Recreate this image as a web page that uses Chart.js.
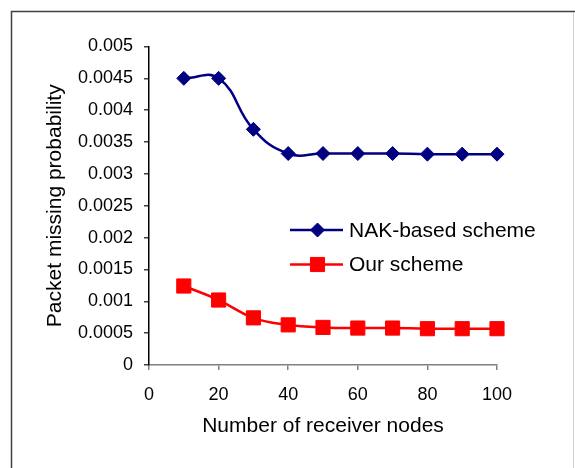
<!DOCTYPE html>
<html>
<head>
<meta charset="utf-8">
<script src="https://cdn.jsdelivr.net/npm/chart.js@4.4.1/dist/chart.umd.min.js"></script>
<style>
  html, body { margin: 0; padding: 0; background: #fff; }
  #wrap { width: 575px; height: 468px; }
</style>
</head>
<body>
<div id="wrap"><canvas id="chart" width="575" height="468"></canvas></div>
<script>
// data
const receiverNodes = [10, 20, 30, 40, 50, 60, 70, 80, 90, 100];
const nakScheme = [0.0045, 0.0045, 0.0037, 0.00332, 0.00332, 0.00332, 0.00332, 0.00331, 0.00331, 0.00331];
const ourScheme = [0.00124, 0.00102, 0.00074, 0.00063, 0.00059, 0.00058, 0.00058, 0.00057, 0.00057, 0.00057];
const seriesNames = ['NAK-based scheme', 'Our scheme'];
const xTicks = [0, 20, 40, 60, 80, 100];
const yTicks = [0, 0.0005, 0.001, 0.0015, 0.002, 0.0025, 0.003, 0.0035, 0.004, 0.0045, 0.005];

const FONT = '"Liberation Sans", Arial, sans-serif';

function toPoints(ys) {
    return receiverNodes.map(function (x, i) { return { x: x, y: ys[i] }; });
}

// outer frame around the whole chart
const framePlugin = {
    id: 'frame',
    beforeDraw: function (chart) {
        const ctx = chart.ctx;
        ctx.save();
        ctx.fillStyle = '#fff';
        ctx.fillRect(0, 0, chart.width, chart.height);
        ctx.strokeStyle = '#404040';
        ctx.lineWidth = 1.5;
        ctx.beginPath();
        ctx.moveTo(11.5, chart.height + 5);
        ctx.lineTo(11.5, 11.5);
        ctx.lineTo(chart.width, 11.5);
        ctx.stroke();
        ctx.strokeStyle = '#d0d0d0';
        ctx.lineWidth = 1;
        ctx.beginPath();
        ctx.moveTo(573.5, 12);
        ctx.lineTo(573.5, chart.height);
        ctx.stroke();
        ctx.restore();
    }
};

// legend drawn inside the plot area, line + marker like the original
const legendPlugin = {
    id: 'insideLegend',
    afterDraw: function (chart) {
        const ctx = chart.ctx;
        const rows = [230, 264.5];
        ctx.save();
        chart.data.datasets.forEach(function (ds, i) {
            const y = rows[i];
            ctx.strokeStyle = ds.borderColor;
            ctx.lineWidth = 2.5;
            ctx.beginPath();
            ctx.moveTo(290, y);
            ctx.lineTo(343, y);
            ctx.stroke();
            // drawPoint fills/strokes with the current ctx colours
            ctx.fillStyle = ds.pointBackgroundColor;
            ctx.strokeStyle = ds.pointBorderColor;
            ctx.lineWidth = 1;
            Chart.helpers.drawPoint(ctx, {
                pointStyle: ds.pointStyle,
                radius: ds.pointRadius,
                borderWidth: 1,
                rotation: 0
            }, 317.5, y);
            ctx.fillStyle = '#000';
            ctx.font = '21px ' + FONT;
            ctx.textBaseline = 'middle';
            ctx.textAlign = 'left';
            ctx.fillText(ds.label, 349, y + 1);
        });
        ctx.restore();
    }
};

const ctx = document.getElementById('chart').getContext('2d');
new Chart(ctx, {
    type: 'line',
    data: {
        datasets: [{
            label: seriesNames[0],
            data: toPoints(nakScheme),
            borderColor: '#000080',
            backgroundColor: '#000080',
            pointBackgroundColor: '#000080',
            pointBorderColor: '#000080',
            borderWidth: 2.5,
            pointStyle: 'rectRot',
            pointRadius: 7,
            pointBorderWidth: 1,
            tension: 0.45,
            clip: false
        }, {
            label: seriesNames[1],
            data: toPoints(ourScheme),
            borderColor: '#ff0000',
            backgroundColor: '#ff0000',
            pointBackgroundColor: '#ff0000',
            pointBorderColor: '#ff0000',
            borderWidth: 2.5,
            pointStyle: 'rect',
            pointRadius: 10,
            pointBorderWidth: 1,
            tension: 0.45,
            clip: false
        }]
    },
    options: {
        responsive: false,
        animation: false,
        layout: { padding: { left: 0, top: 46.5, right: 78, bottom: 0 } },
        plugins: {
            legend: { display: false },
            tooltip: { enabled: false }
        },
        scales: {
            x: {
                type: 'linear',
                min: 0,
                max: 100,
                afterBuildTicks: function (scale) {
                    scale.ticks = xTicks.map(function (v) { return { value: v }; });
                },
                afterFit: function (scale) { scale.height = 103; },
                border: { color: '#808080', width: 1.5 },
                grid: { drawOnChartArea: false, drawTicks: true, tickLength: 5, color: '#808080', lineWidth: 1.5 },
                ticks: { color: '#000', padding: 14, font: { family: FONT, size: 18 }, maxRotation: 0 },
                title: {
                    display: true,
                    text: 'Number of receiver nodes',
                    color: '#000',
                    font: { family: FONT, size: 21 },
                    padding: { top: 0, bottom: 29 }
                }
            },
            y: {
                min: 0,
                max: 0.005,
                afterBuildTicks: function (scale) {
                    scale.ticks = yTicks.map(function (v) { return { value: v }; });
                },
                afterFit: function (scale) { scale.width = 149; },
                border: { color: '#000', width: 1.5 },
                grid: { drawOnChartArea: false, drawTicks: true, tickLength: 5, color: '#404040', lineWidth: 1.5 },
                ticks: {
                    color: '#000',
                    padding: 11,
                    font: { family: FONT, size: 18 },
                    callback: function (v) { return String(Number(v.toFixed(4))); }
                },
                title: {
                    display: true,
                    text: 'Packet missing probability',
                    color: '#000',
                    font: { family: FONT, size: 21 },
                    padding: { top: 43, bottom: 0 }
                }
            }
        }
    },
    plugins: [framePlugin, legendPlugin]
});
</script>
</body>
</html>
